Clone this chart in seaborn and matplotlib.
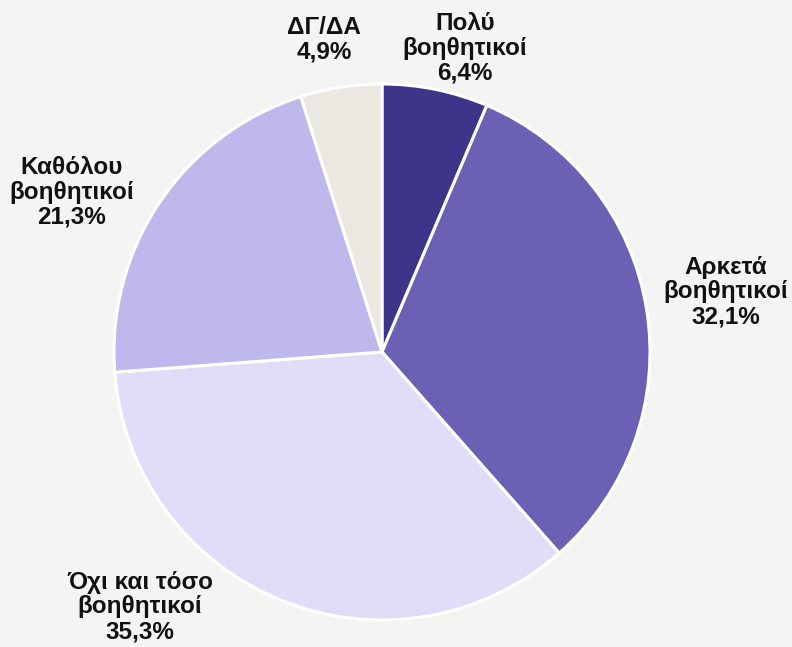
import numpy as np
import matplotlib
matplotlib.use("Agg")
import matplotlib.pyplot as plt
import seaborn as sns

# data
categories = ["Πολύ\nβοηθητικοί", "Αρκετά\nβοηθητικοί", "Όχι και τόσο\nβοηθητικοί",
              "Καθόλου\nβοηθητικοί", "ΔΓ/ΔΑ"]
shares = [6.4, 32.1, 35.3, 21.3, 4.9]
colors = ["#3c3589", "#6a60b4", "#e1ddf8", "#bfb8ec", "#ebe8e2"]

# label positions in pie-radius units (centre of the text block)
label_pos = [(0.31, 1.134), (1.284, 0.224), (-0.903, -0.951), (-1.157, 0.597), (-0.216, 1.164)]

sns.set_theme(style="white")
plt.rcParams["font.family"] = ["Liberation Sans", "DejaVu Sans"]

bg = "#f4f4f2"
fig = plt.figure(figsize=(7.92, 6.47), dpi=100, facecolor=bg)
ax = fig.add_axes([0, 0, 1, 1])
ax.set_facecolor(bg)

ax.pie(shares, colors=sns.color_palette(colors), startangle=90, counterclock=False,
       radius=1.0, wedgeprops=dict(edgecolor="white", linewidth=2.2))

for cat, val, (x, y) in zip(categories, shares, label_pos):
    txt = f"{cat}\n{val:.1f}%".replace(".", ",")
    ax.text(x, y, txt, ha="center", va="center", fontsize=17.5, fontweight="bold",
            color="#111111", linespacing=1.1)

# centre at pixel (382, 352), radius 268 px
R = 268
ax.set_xlim(-382 / R, (792 - 382) / R)
ax.set_ylim(-(647 - 352) / R, 352 / R)
ax.set_aspect("auto")
ax.axis("off")

fig.savefig("out.png", dpi=100, facecolor=bg)
